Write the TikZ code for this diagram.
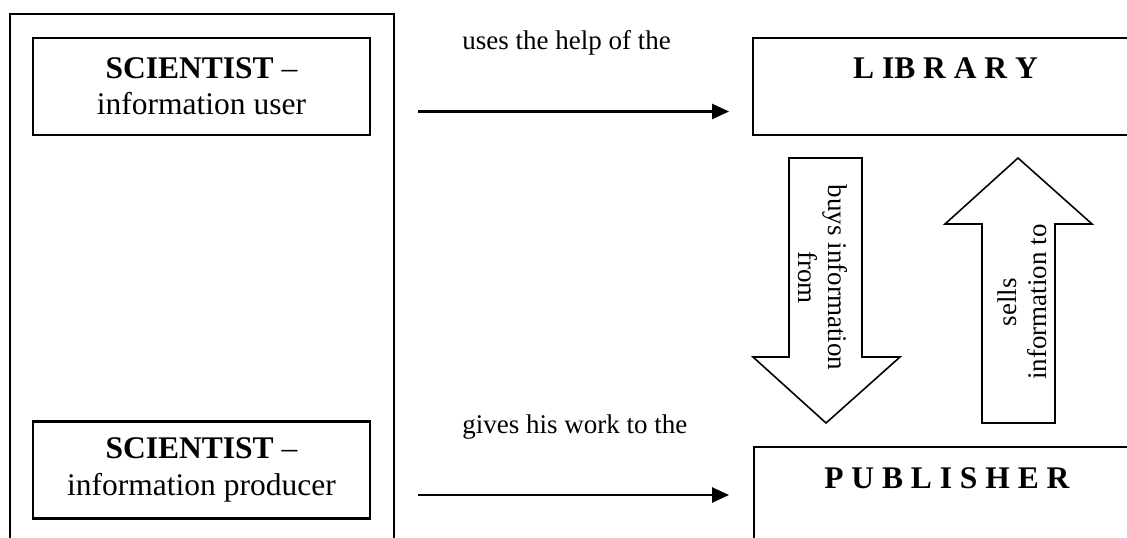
\documentclass[tikz,border=0pt]{standalone}
\usepackage{fontspec}
\setmainfont{Liberation Serif}
\usetikzlibrary{arrows.meta}

\begin{document}
\begin{tikzpicture}[x=0.4444pt,y=-0.4444pt,>={Triangle[length=7.5pt,width=6.7pt]}]
      \tikzstyle{every node}=[font=\fontsize{14}{16.2}\selectfont];
      \tikzstyle{box}=[draw,line width=0.9pt,align=center,minimum width=149.8pt,minimum height=43.1pt,inner sep=0pt];
      \tikzstyle{lbl}=[font=\fontsize{12}{13.4}\selectfont,inner sep=0pt];
      \tikzstyle{blk}=[draw,line width=0.7pt,line join=miter];
        \useasboundingbox (0,0) rectangle (1127,538);
        \clip (0,0) rectangle (1127,538);

        % scientist frame and boxes
        \draw[line width=0.9pt] (10,560) -- (10,14) -- (394,14) -- (394,560);
        \node[box] (user) at (201.5,86.5) {\textbf{SCIENTIST} --\\information user};
        \node[box] (producer) at (201.5,470) {\textbf{SCIENTIST} --\\information producer};

        % library and publisher
        \draw[line width=0.9pt] (1160,38) -- (753,38) -- (753,135) -- (1160,135);
        \node[inner sep=0pt] (library) at (945.5,68.5) {\textbf{L IB R A R Y}};
        \draw[line width=0.9pt] (1160,447) -- (754,447) -- (754,560);
        \node[inner sep=0pt] (publisher) at (947,478.5) {\textbf{P U B L I S H E R}};

        % arrows with labels
        \coordinate (u1) at (418,111.5);
        \coordinate (u2) at (729,111.5);
        \coordinate (p1) at (418,495);
        \coordinate (p2) at (729,495);
        \path[->,draw,line width=0.9pt] (u1) -- (u2);
        \path[->,draw,line width=0.9pt] (p1) -- (p2);
        \node[lbl,anchor=base west] (helps) at (462,49.5) {uses the help of the};
        \node[lbl,anchor=base west] (gives) at (462,433) {gives his work to the};

        % block arrows
        \draw[blk] (789,158) -- (862,158) -- (862,357) -- (900,357) -- (826,423)
              -- (753,357) -- (789,357) -- cycle;
        \draw[blk] (982,423) -- (982,224) -- (945,224) -- (1018,158) -- (1092,224)
              -- (1055,224) -- (1055,423) -- cycle;
        \node[lbl,align=center,rotate=-90] (buys) at (822.5,277.5) {buys information\\from};
        \node[lbl,align=center,rotate=90] (sells) at (1022.5,302) {sells\\information to};
    \end{tikzpicture}
\end{document}
